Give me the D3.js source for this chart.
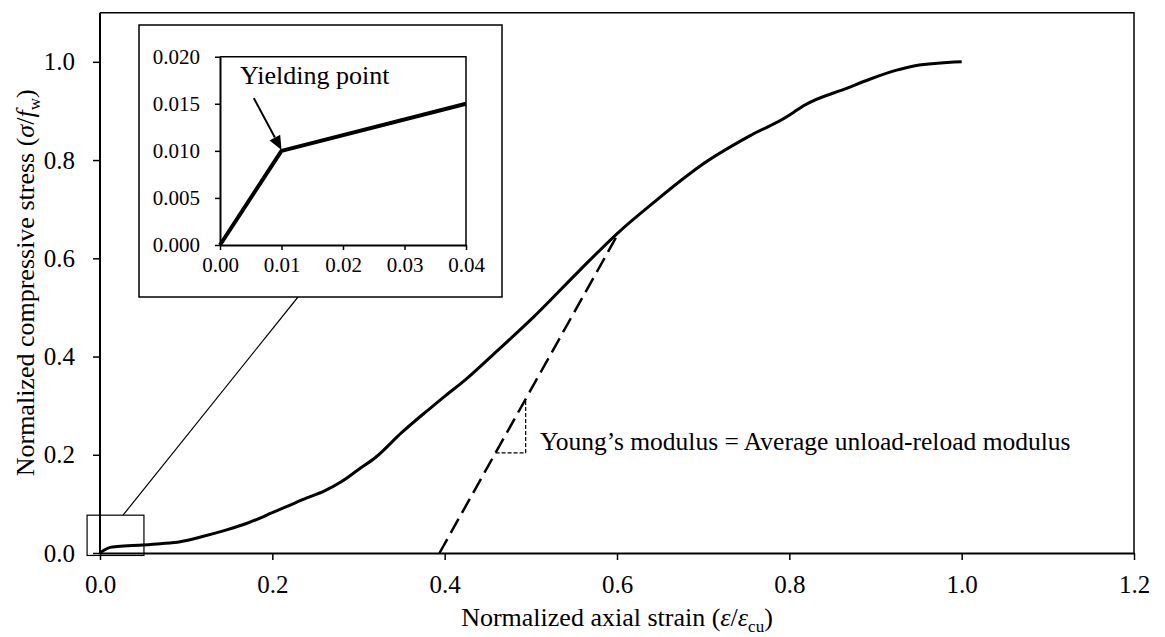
<!DOCTYPE html>
<html>
<head>
<meta charset="utf-8">
<script src="https://cdn.jsdelivr.net/npm/d3@7/dist/d3.min.js"></script>
<style>
  html, body { margin: 0; padding: 0; background: #fff; }
  text { font-family: "Liberation Serif", "Times New Roman", serif; fill: #000; }
</style>
</head>
<body>
<svg id="chart" width="1165" height="637"></svg>
<script>
// ---- data ----
const xTicks = [0.0, 0.2, 0.4, 0.6, 0.8, 1.0, 1.2];
const yTicks = [0.0, 0.2, 0.4, 0.6, 0.8, 1.0];
const strain = [0, 0.005, 0.012, 0.02, 0.05, 0.07, 0.093, 0.12, 0.147, 0.17, 0.20, 0.22, 0.24, 0.26, 0.28, 0.30, 0.32, 0.35, 0.38, 0.40, 0.4236, 0.46, 0.50, 0.557, 0.6024, 0.6435, 0.682, 0.695, 0.756, 0.797, 0.8056, 0.816, 0.868, 0.894, 0.9246, 0.946, 1.0];
const stress = [0, 0.006, 0.0115, 0.013, 0.0163, 0.019, 0.023, 0.034, 0.047, 0.060, 0.082, 0.097, 0.112, 0.126, 0.145, 0.170, 0.195, 0.245, 0.290, 0.319, 0.352, 0.410, 0.475, 0.576, 0.654, 0.715, 0.769, 0.786, 0.851, 0.888, 0.898, 0.910, 0.947, 0.965, 0.983, 0.992, 1.0];
const modulusStrain = [0.394, 0.602];
const modulusStress = [0.0, 0.652];
const triangleCorner = [0.494, 0.204];
const zoomBoxX = [-0.015, 0.051];
const zoomBoxY = [-0.005, 0.077];

const insetXTicks = [0.00, 0.01, 0.02, 0.03, 0.04];
const insetYTicks = [0.000, 0.005, 0.010, 0.015, 0.020];
const insetStrain = [0, 0.01, 0.04];
const insetStress = [0, 0.010, 0.015];
const arrowFrom = [0.0055, 0.0156];
const arrowTo = [0.01, 0.0101];

// ---- layout ----
const svg = d3.select("#chart");
const FONT = '"Liberation Serif", "Times New Roman", serif';
const x = d3.scaleLinear().domain([0, 1.2]).range([100, 1134]);
const y = d3.scaleLinear().domain([0, 1.1]).range([553, 12.7]);

// frame (top and right)
svg.append("path")
  .attr("d", `M${x(0)},${y(1.1)}H${x(1.2)}V${y(0)}`)
  .attr("fill", "none").attr("stroke", "#000").attr("stroke-width", 1.5);

// axes
const xAxis = svg.append("g").attr("transform", `translate(0,${y(0)})`)
  .call(d3.axisBottom(x).tickValues(xTicks).tickFormat(d3.format(".1f")).tickSize(7).tickSizeOuter(0).tickPadding(15));
const yAxis = svg.append("g").attr("transform", `translate(${x(0)},0)`)
  .call(d3.axisLeft(y).tickValues(yTicks).tickFormat(d3.format(".1f")).tickSize(7).tickSizeOuter(0).tickPadding(18));
[xAxis, yAxis].forEach(g => {
  g.select(".domain").attr("stroke-width", 2);
  g.selectAll(".tick line").attr("stroke-width", 1.5);
  g.selectAll(".tick text").attr("font-family", FONT).attr("font-size", 25).attr("fill", "#000");
});
yAxis.select(".domain").attr("d", `M0,${y(0)}V${y(1.1)}`);

// axis titles
const xt = svg.append("text").attr("x", 617).attr("y", 626).attr("text-anchor", "middle")
  .attr("font-size", 26);
xt.append("tspan").text("Normalized axial strain (");
xt.append("tspan").attr("font-style", "italic").text("ε");
xt.append("tspan").text("/");
xt.append("tspan").attr("font-style", "italic").text("ε");
xt.append("tspan").attr("font-size", 17).attr("dy", 6).text("cu");
xt.append("tspan").attr("dy", -6).text(")");

const yt = svg.append("text").attr("transform", `translate(34,${(y(0) + y(1.1)) / 2}) rotate(-90)`)
  .attr("text-anchor", "middle").attr("font-size", 26);
yt.append("tspan").text("Normalized compressive stress (");
yt.append("tspan").attr("font-style", "italic").text("σ");
yt.append("tspan").text("/");
yt.append("tspan").attr("font-style", "italic").text("f");
yt.append("tspan").attr("font-size", 17).attr("dy", 6).text("w");
yt.append("tspan").attr("dy", -6).text(")");

// main curve
const pts = strain.map((s, i) => [s, stress[i]]);
svg.append("path").datum(pts)
  .attr("d", d3.line().x(d => x(d[0])).y(d => y(d[1])).curve(d3.curveMonotoneX))
  .attr("fill", "none").attr("stroke", "#000").attr("stroke-width", 3).attr("stroke-linejoin", "round");

// modulus dashed line
const mPts = modulusStrain.map((s, i) => [s, modulusStress[i]]);
svg.append("path").datum(mPts)
  .attr("d", d3.line().x(d => x(d[0])).y(d => y(d[1])))
  .attr("fill", "none").attr("stroke", "#000").attr("stroke-width", 2.5).attr("stroke-dasharray", "16,7");

// slope triangle
const slope = (modulusStress[1] - modulusStress[0]) / (modulusStrain[1] - modulusStrain[0]);
const xAtY = v => modulusStrain[0] + (v - modulusStress[0]) / slope;
const yAtX = v => modulusStress[0] + (v - modulusStrain[0]) * slope;
svg.append("path")
  .attr("d", `M${x(xAtY(triangleCorner[1]))},${y(triangleCorner[1])}H${x(triangleCorner[0])}V${y(yAtX(triangleCorner[0]))}`)
  .attr("fill", "none").attr("stroke", "#000").attr("stroke-width", 1.2).attr("stroke-dasharray", "4,2");
svg.append("text").attr("x", 540).attr("y", 450)
  .attr("font-size", 25.5).text("Young’s modulus = Average unload-reload modulus");

// zoom box
svg.append("rect")
  .attr("x", x(zoomBoxX[0])).attr("y", y(zoomBoxY[1]))
  .attr("width", x(zoomBoxX[1]) - x(zoomBoxX[0])).attr("height", y(zoomBoxY[0]) - y(zoomBoxY[1]))
  .attr("fill", "none").attr("stroke", "#000").attr("stroke-width", 1.2);

// inset box geometry
const inset = { left: 139, top: 25, right: 502, bottom: 297 };
svg.append("line")
  .attr("x1", x(0.0267)).attr("y1", y(zoomBoxY[1]))
  .attr("x2", 298).attr("y2", inset.bottom)
  .attr("stroke", "#000").attr("stroke-width", 1.2);
svg.append("rect").attr("x", inset.left).attr("y", inset.top)
  .attr("width", inset.right - inset.left).attr("height", inset.bottom - inset.top)
  .attr("fill", "#fff").attr("stroke", "#000").attr("stroke-width", 1.5);

const ix = d3.scaleLinear().domain([0, 0.04]).range([220, 466]);
const iy = d3.scaleLinear().domain([0, 0.02]).range([245, 56.7]);
svg.append("path").attr("d", `M${ix(0)},${iy(0.02)}H${ix(0.04)}V${iy(0)}`)
  .attr("fill", "none").attr("stroke", "#000").attr("stroke-width", 1.5);
const ixa = svg.append("g").attr("transform", `translate(0,${iy(0)})`)
  .call(d3.axisBottom(ix).tickValues(insetXTicks).tickFormat(d3.format(".2f")).tickSize(5).tickSizeOuter(0).tickPadding(7));
const iya = svg.append("g").attr("transform", `translate(${ix(0)},0)`)
  .call(d3.axisLeft(iy).tickValues(insetYTicks).tickFormat(d3.format(".3f")).tickSize(5).tickSizeOuter(0).tickPadding(15));
[ixa, iya].forEach(g => {
  g.select(".domain").attr("stroke-width", 2);
  g.selectAll(".tick line").attr("stroke-width", 1.5);
  g.selectAll(".tick text").attr("font-family", FONT).attr("font-size", 21).attr("fill", "#000");
});
const iPts = insetStrain.map((s, i) => [s, insetStress[i]]);
svg.append("path").datum(iPts)
  .attr("d", d3.line().x(d => ix(d[0])).y(d => iy(d[1])))
  .attr("fill", "none").attr("stroke", "#000").attr("stroke-width", 4).attr("stroke-linejoin", "round");

// arrow
const ax1 = ix(arrowFrom[0]), ay1 = iy(arrowFrom[1]), ax2 = ix(arrowTo[0]), ay2 = iy(arrowTo[1]);
const ang = Math.atan2(ay2 - ay1, ax2 - ax1);
const hl = 14, hw = 6;
const bx = ax2 - hl * Math.cos(ang), by = ay2 - hl * Math.sin(ang);
svg.append("line").attr("x1", ax1).attr("y1", ay1).attr("x2", bx).attr("y2", by)
  .attr("stroke", "#000").attr("stroke-width", 2);
svg.append("path")
  .attr("d", `M${ax2},${ay2}L${bx + hw * Math.sin(ang)},${by - hw * Math.cos(ang)}L${bx - hw * Math.sin(ang)},${by + hw * Math.cos(ang)}Z`)
  .attr("fill", "#000");
svg.append("text").attr("x", ix(0.00325)).attr("y", iy(0.0171))
  .attr("font-size", 26).text("Yielding point");
</script>
</body>
</html>
